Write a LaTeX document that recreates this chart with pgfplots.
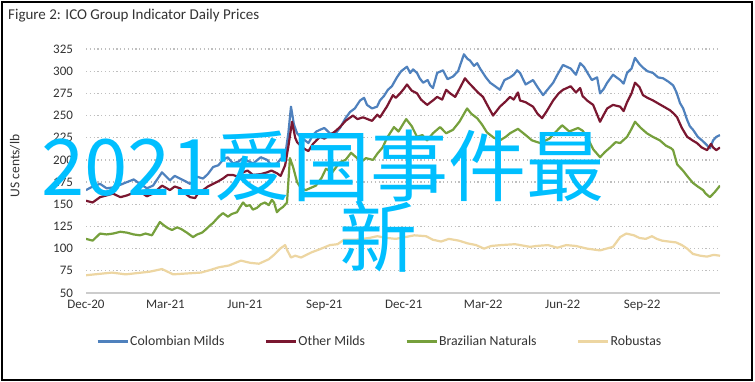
\documentclass[border=0pt]{standalone}
\usepackage{pgfplots}
\pgfplotsset{compat=1.18}
\usepackage{fontspec}
\setmainfont{Carlito}
\newfontfamily\cjk{Noto Sans CJK SC}
\definecolor{cmild}{HTML}{4F81BD}
\definecolor{omild}{HTML}{7A1730}
\definecolor{bnat}{HTML}{76A03C}
\definecolor{robu}{HTML}{EDD6A2}
\definecolor{ovl}{RGB}{0,191,255}
\definecolor{gridc}{HTML}{BFBFBF}
\definecolor{txt}{HTML}{333333}

\pgfplotstableread{
m v
0 166
0.25 170
0.53 173
0.78 168
1.02 169
1.3 172
1.55 175
1.8 178
2.04 173
2.3 168
2.53 171
2.87 186
3.17 177
3.35 182
3.55 179
3.75 176
3.93 173
4.2 181
4.42 179
4.6 184
4.80 192
5.0 194
5.17 200
5.35 203
5.55 196
5.75 198
5.93 202
6.1 199
6.31 196
6.6 203
6.84 200
7.0 194
7.21 196
7.35 201
7.52 205
7.64 230
7.74 260
7.85 240
7.97 230
8.1 226
8.27 222
8.4 219
8.57 228
8.7 232
8.84 234
9.0 236
9.21 230
9.4 229
9.59 236
9.8 247
9.97 254
10.15 258
10.35 267
10.5 270
10.61 262
10.8 258
10.99 260
11.10 267
11.25 272
11.40 279
11.55 283
11.74 293
11.9 300
12.12 305
12.24 298
12.35 302
12.50 298
12.6 292
12.73 287
12.9 290
13.0 284
13.10 281
13.26 298
13.48 301
13.65 291
13.86 294
14.05 300
14.27 319
14.4 314
14.50 312
14.65 306
14.77 309
14.88 303
14.99 298
15.1 293
15.26 287
15.45 283
15.63 279
15.8 290
16.01 293
16.15 296
16.28 301
16.39 298
16.6 285
16.88 290
17.05 282
17.26 273
17.45 280
17.64 287
17.8 296
18.01 307
18.3 303
18.5 296
18.66 309
18.8 305
18.92 299
19.1 290
19.30 293
19.41 275
19.55 280
19.68 287
19.9 296
20.17 290
20.3 286
20.43 298
20.6 303
20.73 315
20.9 308
21.03 304
21.2 300
21.41 298
21.6 293
21.79 292
22.0 288
22.17 284
22.3 276
22.43 264
22.55 258
22.70 245
22.8 238
22.92 234
23.1 226
23.26 222
23.4 218
23.56 213
23.68 222
23.8 226
23.94 228
}\colombian

\pgfplotstableread{
m v
0 154
0.25 152
0.53 158
0.78 160
1.02 162
1.3 158
1.55 160
1.8 163
2.04 164
2.3 159
2.53 162
2.87 171
3.17 166
3.35 170
3.55 168
3.75 162
3.93 158
4.12 157
4.2 161
4.42 166
4.6 170
4.80 173
5.0 176
5.17 179
5.35 183
5.55 183
5.75 181
5.93 186
6.1 188
6.31 183
6.6 184
6.84 186
7.0 188
7.21 185
7.35 182
7.52 194
7.64 215
7.78 243
7.90 225
7.97 220
8.1 216
8.27 212
8.4 210
8.57 218
8.7 222
8.84 226
9.0 224
9.21 228
9.4 232
9.59 237
9.8 244
10.08 250
10.25 246
10.46 248
10.8 244
11.0 251
11.10 248
11.25 255
11.36 260
11.59 273
11.7 270
11.86 275
12.0 280
12.12 285
12.3 278
12.50 275
12.65 268
12.88 262
13.10 267
13.26 271
13.45 268
13.6 279
13.75 275
13.94 271
14.1 280
14.31 292
14.45 287
14.61 282
14.8 276
14.99 271
15.15 262
15.37 250
15.5 255
15.63 260
15.85 266
16.01 271
16.15 268
16.31 276
16.39 267
16.6 265
16.88 260
17.05 252
17.22 247
17.4 255
17.64 267
17.85 275
18.01 279
18.3 283
18.5 276
18.66 281
18.75 272
18.92 267
19.15 262
19.41 243
19.55 251
19.68 258
19.9 262
20.17 260
20.3 255
20.43 265
20.6 275
20.73 287
20.9 282
21.03 273
21.2 270
21.41 267
21.7 262
22.05 256
22.2 252
22.32 248
22.5 236
22.70 226
22.9 222
23.07 219
23.25 214
23.45 211
23.6 218
23.68 214
23.8 211
23.94 214
}\othermilds

\pgfplotstableread{
m v
0 111
0.25 109
0.53 117
0.78 116
1.02 117
1.3 119
1.55 118
1.8 116
2.04 115
2.25 117
2.49 115
2.79 130
2.95 126
3.10 123
3.25 121
3.44 124
3.6 122
3.81 118
4.04 113
4.2 116
4.38 118
4.5 121
4.68 126
4.8 129
4.95 134
5.05 137
5.17 140
5.36 136
5.5 139
5.70 141
5.8 146
5.93 152
6.05 148
6.19 149
6.3 144
6.46 146
6.6 150
6.76 152
6.9 149
7.02 155
7.1 152
7.21 141
7.3 144
7.44 147
7.59 152
7.70 202
7.82 192
7.97 175
8.12 168
8.3 166
8.68 171
8.9 180
9.06 190
9.3 186
9.5 194
9.63 198
9.8 200
10.01 208
10.2 203
10.4 198
10.57 202
10.84 200
11.0 207
11.2 214
11.37 225
11.63 237
11.8 232
12.09 246
12.3 238
12.50 226
12.7 228
12.88 222
13.1 230
13.37 237
13.6 230
13.86 234
14.1 243
14.39 258
14.55 252
14.77 247
14.95 240
15.14 231
15.4 225
15.63 222
15.85 226
16.01 230
16.31 235
16.6 228
16.84 222
17.15 219
17.5 224
17.75 232
17.98 239
18.25 232
18.58 236
18.75 233
18.92 226
19.15 212
19.41 203
19.6 209
19.79 214
20.0 220
20.17 219
20.43 226
20.6 235
20.73 243
20.95 236
21.18 230
21.4 226
21.67 222
21.9 216
22.1 213
22.17 211
22.32 195
22.54 188
22.75 180
22.92 174
23.1 170
23.30 166
23.4 162
23.56 158
23.75 164
23.94 171
}\brazilian

\pgfplotstableread{
m v
0 70
0.98 73
1.5 71
2.4 74
2.87 77
3.29 71
3.8 72
4.34 73
4.7 76
5.02 79
5.4 81
5.85 86.5
6.2 84
6.53 83
6.9 88
7.1 93
7.33 100
7.52 104
7.6 98
7.74 90
7.9 92
8.12 90
8.53 96
8.8 99
9.21 104
9.5 105
9.74 110
10.2 110
10.69 112
11.0 114
11.37 112
11.7 111
12.05 113
12.4 115
12.84 114
13.1 110
13.41 108
13.7 111
14.08 109
14.4 106
14.73 104
15.03 100
15.3 103
15.67 104
16.2 105
16.77 102
17.0 103
17.45 104
17.8 101
18.13 104
18.5 103
18.92 100
19.41 98
19.65 100
19.90 102
20.17 113
20.4 117
20.69 115
20.9 112
21.14 111
21.37 114
21.55 111
21.75 109
22.0 108
22.28 107
22.5 104
22.70 100
22.92 94
23.2 92
23.45 91
23.7 93
23.94 92
}\robustas

\begin{document}
\begin{tikzpicture}[x=1pt,y=1pt]
\path[use as bounding box] (0,0) rectangle (755,382);
\fill[white] (0,0) rectangle (755,382);
\draw[line width=1.5pt, black] (2,2) rectangle (752,380);
\node[anchor=base west, inner sep=0, text=txt, font=\fontsize{15}{17}\selectfont] at (8,362) {Figure 2: ICO Group Indicator Daily Prices};
\node[rotate=90, inner sep=0, text=txt, font=\fontsize{13.5}{15}\selectfont] at (15,216) {US cents/lb};
\begin{axis}[
  at={(86pt,89pt)}, anchor=south west,
  scale only axis, width=634pt, height=244pt,
  xmin=0, xmax=23.94, ymin=50, ymax=325,
  axis line style={draw=none},
  major tick length=0pt,
  xtick={0,3,...,21},
  xticklabels={Dec-20,Mar-21,Jun-21,Sep-21,Dec-21,Mar-22,Jun-22,Sep-22},
  ytick={75,100,...,325},
  extra y ticks={50},
  extra y tick style={grid style={solid, gridc!80, line width=1.2pt}},
  ymajorgrids,
  grid style={gridc, line width=1.2pt, dash pattern=on 1.2pt off 2.6pt},
  tick label style={text=txt, font=\fontsize{13}{15}\selectfont},
  /pgf/number format/assume math mode=true,
  yticklabel style={xshift=-9.5pt},
  xticklabel style={yshift=-4pt},
  legend columns=4,
  legend style={at={(0.0158,-0.197)}, anchor=west, draw=none, fill=none,
    font=\fontsize{13.8}{15}\selectfont, text=txt, inner sep=0pt,
    nodes={inner sep=1pt},
    /tikz/every even column/.append style={column sep=39pt}},
  legend image code/.code={\draw[#1, line width=3pt] (0pt,0pt) -- (30pt,0pt);},
  every axis plot/.append style={line width=2.2pt, line join=round},
]
\addplot[cmild] table[x=m,y=v] {\colombian};
\addlegendentry{Colombian Milds}
\addplot[omild] table[x=m,y=v] {\othermilds};
\addlegendentry{Other Milds}
\addplot[bnat] table[x=m,y=v] {\brazilian};
\addlegendentry{Brazilian Naturals}
\addplot[robu] table[x=m,y=v] {\robustas};
\addlegendentry{Robustas}
\end{axis}
\node[anchor=west, inner sep=0, text=ovl, font=\cjk\fontsize{78}{78}\selectfont] at (41,216) {2021爱国事件最};
\node[anchor=center, inner sep=0, text=ovl, font=\cjk\fontsize{78}{78}\selectfont] at (378,145) {新};
\end{tikzpicture}
\end{document}
